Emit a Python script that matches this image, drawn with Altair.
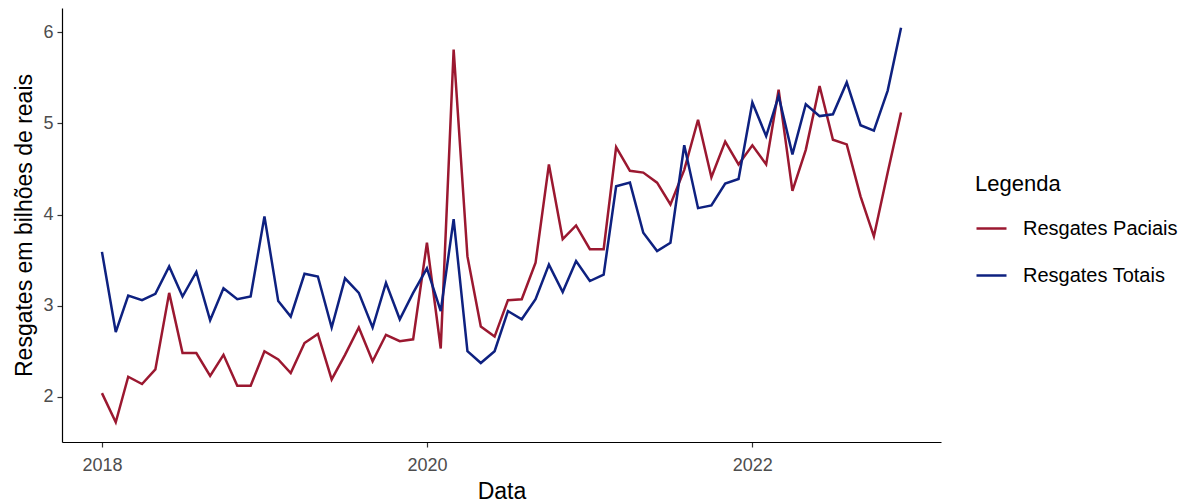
import altair as alt
import pandas as pd

# Monthly series, Jan 2018 .. Dec 2022 (values in R$ billions)
months = pd.date_range("2018-01-01", periods=60, freq="MS")

paciais = [2.04, 1.72, 2.22, 2.14, 2.30, 3.14, 2.48, 2.48, 2.23, 2.46, 2.12, 2.12,
           2.50, 2.41, 2.26, 2.59, 2.69, 2.19, 2.46, 2.76, 2.39, 2.68, 2.61, 2.63,
           3.69, 2.53, 5.81, 3.54, 2.77, 2.66, 3.06, 3.07, 3.47, 4.55, 3.73, 3.88,
           3.62, 3.62, 4.74, 4.48, 4.46, 4.35, 4.11, 4.49, 5.04, 4.41, 4.80, 4.55,
           4.76, 4.55, 5.37, 4.26, 4.71, 5.41, 4.82, 4.77, 4.20, 3.76, 4.46, 5.12]

totais = [3.59, 2.71, 3.11, 3.06, 3.13, 3.43, 3.10, 3.37, 2.84, 3.19, 3.07, 3.10,
          3.98, 3.05, 2.88, 3.35, 3.32, 2.76, 3.30, 3.14, 2.76, 3.25, 2.85, 3.14,
          3.41, 2.94, 3.95, 2.50, 2.37, 2.50, 2.94, 2.85, 3.07, 3.45, 3.15, 3.49,
          3.27, 3.34, 4.31, 4.35, 3.80, 3.60, 3.69, 4.76, 4.07, 4.10, 4.34, 4.39,
          5.23, 4.86, 5.30, 4.66, 5.21, 5.08, 5.10, 5.45, 4.98, 4.92, 5.36, 6.05]

series_names = ["Resgates Paciais", "Resgates Totais"]
series_colors = ["#9B1830", "#0E2180"]
x_tick_years = ["2018-01-01", "2020-01-01", "2022-01-01"]
y_tick_values = [2, 3, 4, 5, 6]

dates = [d.strftime("%Y-%m-%d") for d in months]
df = pd.DataFrame({
    "Data": dates + dates,
    "valor": paciais + totais,
    "serie": [series_names[0]] * len(dates) + [series_names[1]] * len(dates),
})

def ms(s):
    return int(pd.Timestamp(s).value // 10**6)

t0, t1 = ms(dates[0]), ms(dates[-1])
span = t1 - t0
xdom = [t0 - 0.05 * span, t1 + 0.05 * span]
allv = paciais + totais
r = max(allv) - min(allv)
ydom = [min(allv) - 0.05 * r, max(allv) + 0.05 * r]
xticks = [ms(s) for s in x_tick_years]

FONT = "Liberation Sans"
W, H = 879, 434

chart = alt.Chart(df).mark_line(strokeWidth=2.5).encode(
    x=alt.X("Data:T",
            scale=alt.Scale(type="utc", domain=xdom, nice=False),
            axis=alt.Axis(values=xticks, format="%Y", formatType="utc",
                          title="Data", labelPadding=9, labelBaseline="top",
                          titleY=56, titleBaseline="alphabetic", titleX=W / 2,
                          titleAlign="center")),
    y=alt.Y("valor:Q",
            scale=alt.Scale(domain=ydom, nice=False, zero=False),
            axis=alt.Axis(values=y_tick_values, title="Resgates em bilhões de reais",
                          labelPadding=4, titleX=-38, titleY=H / 2,
                          titleAngle=-90, titleAlign="center", titleBaseline="middle")),
    color=alt.Color("serie:N",
                    scale=alt.Scale(domain=series_names, range=series_colors),
                    legend=alt.Legend(title="Legenda", orient="none",
                                      legendX=913, legendY=166,
                                      symbolType="stroke", symbolSize=900,
                                      symbolStrokeWidth=2.5, labelOffset=15,
                                      rowPadding=20, titlePadding=16,
                                      labelFontSize=20, titleFontSize=22,
                                      labelColor="black", titleColor="black",
                                      titleFontWeight="normal",
                                      labelFont=FONT, titleFont=FONT)),
).properties(
    width=W, height=H,
    padding={"left": 54, "top": 0, "right": 240, "bottom": 60},
    autosize=alt.AutoSizeParams(type="none"),
).configure(font=FONT).configure_view(stroke=None).configure_axis(
    grid=False, domainColor="black", domainWidth=1.2,
    tickColor="#333333", tickSize=5, tickWidth=1.2,
    labelColor="#4D4D4D", labelFontSize=18, labelFont=FONT,
    titleFontSize=23, titleColor="black", titleFontWeight="normal", titleFont=FONT,
)

chart.save("out.html", embed_options={"renderer": "svg", "actions": False})
